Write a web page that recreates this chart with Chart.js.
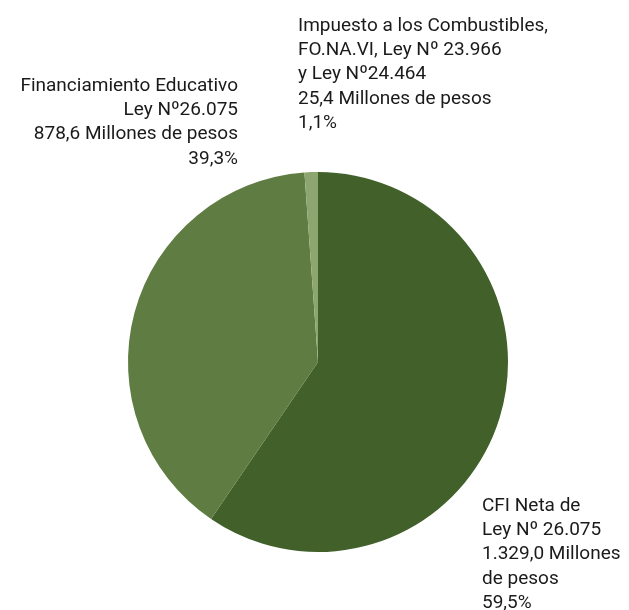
<!DOCTYPE html>
<html>
<head>
<meta charset="utf-8">
<script src="https://cdn.jsdelivr.net/npm/chart.js@4"></script>
<style>
  html, body { margin: 0; padding: 0; background: #fff; }
  #wrap { width: 629px; height: 610px; }
</style>
</head>
<body>
<div id="wrap"><canvas id="myChart" width="629" height="610"></canvas></div>
<script>
// Datos del gráfico (orden horario desde las 12)
const categorias = ['CFI Neta de Ley Nº 26.075', 'Financiamiento Educativo Ley Nº26.075', 'Impuesto a los Combustibles, FO.NA.VI, Ley Nº 23.966 y Ley Nº24.464'];
const montos = [1329.0, 878.6, 25.4];
const porcentajes = [59.5, 39.3, 1.1];
const colores = ['#42602a', '#5f7d42', '#8da66f'];

// Textos de las etiquetas
const etiquetas = [
    ['CFI Neta de', 'Ley Nº 26.075', '1.329,0 Millones', 'de pesos', '59,5%'],
    ['Financiamiento Educativo', 'Ley Nº26.075', '878,6 Millones de pesos', '39,3%'],
    ['Impuesto a los Combustibles,', 'FO.NA.VI, Ley Nº 23.966', 'y Ley Nº24.464', '25,4 Millones de pesos', '1,1%']
];

// Etiquetas fuera de la torta
const etiquetasPlugin = {
    id: 'etiquetas',
    afterDraw(chart) {
        const ctx = chart.ctx;
        const area = chart.chartArea;
        ctx.save();
        ctx.font = '19px Roboto';
        ctx.fillStyle = '#1a1a1a';
        ctx.textBaseline = 'middle';
        const lh = 24.3;

        // CFI: abajo a la derecha
        ctx.textAlign = 'left';
        etiquetas[0].forEach((t, i) => ctx.fillText(t, area.right - 26, area.bottom - 46 + i * lh));

        // Financiamiento: arriba a la izquierda, alineado a la derecha
        ctx.textAlign = 'right';
        etiquetas[1].forEach((t, i) => ctx.fillText(t, area.left + 110, area.top - 86 + i * lh));

        // Combustibles: arriba
        ctx.textAlign = 'left';
        etiquetas[2].forEach((t, i) => ctx.fillText(t, area.left + 170, area.top - 146 + i * lh));
        ctx.restore();
    }
};

const ctx = document.getElementById('myChart').getContext('2d');
const myChart = new Chart(ctx, {
    type: 'pie',
    data: {
        labels: categorias,
        datasets: [{
            data: montos,
            backgroundColor: colores,
            borderWidth: 0
        }]
    },
    options: {
        responsive: false,
        animation: false,
        layout: {
            padding: { left: 128, right: 121, top: 172, bottom: 58 }
        },
        plugins: {
            legend: { display: false },
            tooltip: { enabled: false }
        }
    },
    plugins: [etiquetasPlugin]
});
</script>
</body>
</html>
